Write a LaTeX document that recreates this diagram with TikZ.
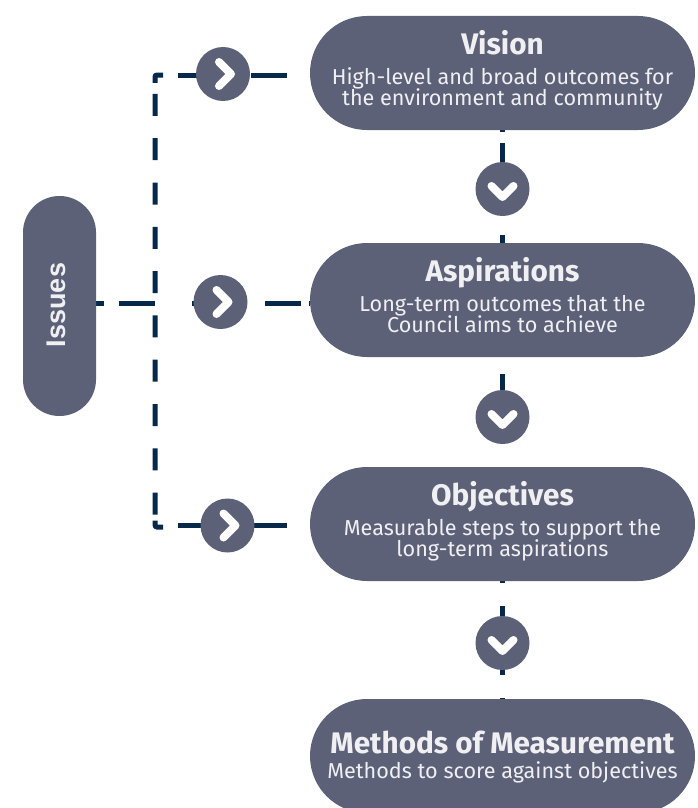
\documentclass[tikz,border=0pt]{standalone}
\usepackage{fontspec}
\setmainfont{Fira Sans}
\newfontfamily\issuesfont{Liberation Sans}
\usetikzlibrary{backgrounds}
\definecolor{pillgrey}{HTML}{5C6178}
\definecolor{linenavy}{HTML}{06284B}
\definecolor{textwhite}{HTML}{F0F0F3}
\newcommand{\pilltext}[3]{{\fontsize{29.7}{29.7}\selectfont\bfseries #1}\\[#3]#2\rule[-10pt]{0pt}{0pt}}
\tikzset{
    pill/.style={fill=pillgrey, text=textwhite, rounded corners=57pt, minimum width=385pt,
        minimum height=114pt, inner sep=0pt, align=center, font=\fontsize{21.6}{21.5}\selectfont},
    nextdot/.style={circle, fill=pillgrey, minimum size=54pt, inner sep=0pt},
    dashline/.style={draw=linenavy, line width=5pt},
    chevron/.style={draw=white, line width=8pt, line cap=round, line join=round}
}
\begin{document}
\begin{tikzpicture}[x=1pt, y=-1pt]
    \clip (0,0) rectangle (697,808);
    \node[pill, rounded corners=36.5pt, minimum width=73pt, minimum height=220pt] (issues) at (59.5,306) {};
    \node[rotate=90, text=textwhite, font=\issuesfont\fontsize{27}{27}\selectfont\bfseries] (issueslabel) at (56,305) {Issues};
    \node[pill] (vision) at (502.5,73)
        {\pilltext{Vision}{High-level and broad outcomes for\\the environment and community}{8pt}};
    \node[pill] (aspirations) at (502.5,300)
        {\pilltext{Aspirations}{Long-term outcomes that the\\Council aims to achieve}{6pt}};
    \node[pill] (objectives) at (502.5,524)
        {\pilltext{Objectives}{Measurable steps to support the\\long-term aspirations}{6pt}};
    \node[pill] (methods) at (502.5,756)
        {\pilltext{\rule{0pt}{30pt}Methods of Measurement}{Methods to score against objectives}{3pt}};
    % round markers on the lines
    \node[nextdot] (visiondot) at (223,74) {};
    \node[nextdot] (aspirationsdot) at (220.5,302) {};
    \node[nextdot] (objectivesdot) at (227.5,525.5) {};
    \node[nextdot] (downone) at (502.5,189) {};
    \node[nextdot] (downtwo) at (502.5,417) {};
    \node[nextdot] (downthree) at (502.5,643) {};
    \foreach \dotname in {visiondot, aspirationsdot, objectivesdot}
        \draw[chevron] ([shift={(-4,-12)}]\dotname.center) -- ([shift={(8,0)}]\dotname.center) -- ([shift={(-4,12)}]\dotname.center);
    \foreach \dotname in {downone, downtwo, downthree}
        \draw[chevron] ([shift={(-11,-3)}]\dotname.center) -- ([shift={(0,8)}]\dotname.center) -- ([shift={(11,-3)}]\dotname.center);
    \coordinate (topturn) at (163,75);
    \coordinate (bottomturn) at (163,527);
    \begin{scope}[on background layer]
        \draw[dashline, rounded corners=2pt, dash pattern=on 15pt off 11pt
            on 22pt off 22.3pt on 22pt off 22.3pt on 22pt off 22.3pt on 22pt off 22.3pt on 22pt off 22.3pt
            on 22pt off 22.3pt on 22pt off 22.3pt on 22pt off 22.3pt on 22pt off 22.3pt on 22pt off 6pt on 16pt off 1pt]
            (topturn) -| (155,527) -- (bottomturn);
        \draw[dashline, dash pattern=on 0pt off 15pt on 36pt off 37pt on 36pt off 40pt]
            (topturn) -- (topturn -| vision.west);
        \draw[dashline, dash pattern=on 0pt off 15pt on 36pt off 37pt on 36pt off 40pt]
            (bottomturn |- objectivesdot) -- (objectivesdot -| objectives.west);
        \draw[dashline, dash pattern=on 8pt off 15pt on 36pt off 37pt on 36pt off 37pt on 36pt off 8pt on 2pt]
            (issues.east |- 0,303) -- (aspirations.west |- 0,303);
        \draw[dashline, dash pattern=on 2pt off 11pt on 36pt off 56pt on 10pt off 2pt]
            (vision.south) -- (aspirations.north);
        \draw[dashline, dash pattern=on 0pt off 17pt on 70pt off 40pt]
            (aspirations.south) -- (objectives.north);
        \draw[dashline, dash pattern=on 2pt off 23pt on 36pt off 28pt on 5pt off 23pt on 2pt]
            (objectives.south) -- (methods.north);
    \end{scope}
    \useasboundingbox (0,0) rectangle (697,808);
\end{tikzpicture}
\end{document}
